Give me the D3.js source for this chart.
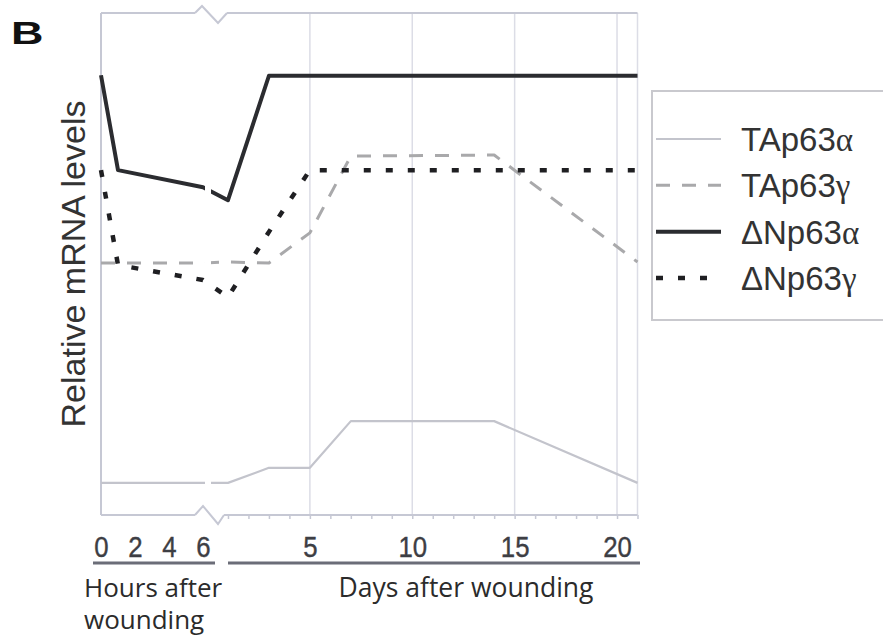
<!DOCTYPE html>
<html><head><meta charset="utf-8">
<script src="https://cdn.jsdelivr.net/npm/d3@7/dist/d3.min.js"></script>
<style>body{margin:0;background:#fff}svg{display:block}</style>
</head><body>
<svg id="chart" width="883" height="643"></svg>
<script>
// Time axis: hours (0–6 h) then a break, then days (1–21 d)
const hourTicks = [0, 2, 4, 6];
const dayTicks = [5, 10, 15, 20];
const dayMinorTicks = d3.range(1, 22);
const hourPoints = [0, 1, 6];
const dayPoints = [1, 3, 5, 7, 14, 21];

// Relative mRNA levels (arbitrary units) for each isoform
const seriesNames = ["TAp63α", "TAp63γ", "ΔNp63α", "ΔNp63γ"];
const tap63aHours = [0.64, 0.64, 0.64];
const tap63aDays  = [0.64, 0.94, 0.94, 1.87, 1.87, 0.64];
const tap63gHours = [5.02, 5.02, 5.02];
const tap63gDays  = [5.04, 5.02, 5.62, 7.15, 7.17, 5.04];
const dnp63aHours = [8.76, 6.87, 6.53];
const dnp63aDays  = [6.27, 8.75, 8.75, 8.75, 8.75, 8.75];
const dnp63gHours = [6.87, 4.98, 4.68];
const dnp63gDays  = [4.34, 5.64, 6.87, 6.87, 6.87, 6.87];

const styles = [
  {color: "#c3c4cc", width: 2.2, dash: null},
  {color: "#a9a9ab", width: 3,   dash: "14,12"},
  {color: "#2b2c30", width: 4,   dash: null},
  {color: "#1f1f22", width: 4.5, dash: "7,15"}
];
const seriesHours = [tap63aHours, tap63gHours, dnp63aHours, dnp63gHours];
const seriesDays  = [tap63aDays, tap63gDays, dnp63aDays, dnp63gDays];

const svg = d3.select("#chart");
const plotL = 101, plotR = 637.5, plotT = 13, plotB = 515;

const xH = d3.scaleLinear().domain([0, 6]).range([plotL, 203]);
const xD = d3.scaleLinear().domain([0, 21]).range([207.5, plotR]);
const y = d3.scaleLinear().domain([0, 10]).range([plotB, plotT]);

const frame = "#c6c8d4", grid = "#dcdde6";

// panel letter
svg.append("text").attr("x", 0).attr("y", 0)
  .attr("transform", "translate(11,44) scale(1.45,1)")
  .attr("font-family", "Liberation Sans, Arial, sans-serif")
  .attr("font-weight", 900).attr("font-size", 31).attr("fill", "#111")
  .text("B");

// vertical gridlines at labelled days and the right edge
svg.append("g").selectAll("line").data(dayTicks.concat([21])).join("line")
  .attr("x1", d => xD(d)).attr("x2", d => xD(d))
  .attr("y1", plotT).attr("y2", plotB)
  .attr("stroke", grid).attr("stroke-width", 1.5);

// left axis and frame lines (broken at the hour/day junction)
const fr = svg.append("g").attr("fill", "none").attr("stroke", frame).attr("stroke-width", 2);
fr.append("line").attr("x1", plotL).attr("x2", plotL).attr("y1", plotT).attr("y2", plotB);
fr.append("line").attr("x1", plotL).attr("x2", 195).attr("y1", plotT).attr("y2", plotT);
fr.append("line").attr("x1", 227).attr("x2", plotR).attr("y1", plotT).attr("y2", plotT);
fr.append("path").attr("d", `M195,${plotT} L202,${plotT - 7} L218,${plotT + 10} L227,${plotT}`);
fr.append("line").attr("x1", plotL).attr("x2", 195).attr("y1", plotB).attr("y2", plotB);
fr.append("line").attr("x1", 224).attr("x2", plotR).attr("y1", plotB).attr("y2", plotB);
fr.append("path").attr("d", `M195,${plotB} L203,${plotB - 9} L218,${plotB + 9} L224,${plotB}`);

// minor day ticks
const minorAxis = d3.axisBottom(xD).tickValues(dayMinorTicks).tickSize(4).tickFormat("");
const gMinor = svg.append("g").attr("transform", `translate(0,${plotB})`).call(minorAxis);
gMinor.select(".domain").remove();
gMinor.selectAll("line").attr("stroke", frame).attr("stroke-width", 1.5);

// series lines
const line = d3.line().x(d => d.x).y(d => y(d.v));
seriesNames.forEach((name, i) => {
  const pts = hourPoints.map((h, j) => ({x: xH(h), v: seriesHours[i][j]}))
    .concat(dayPoints.map((d, j) => ({x: xD(d), v: seriesDays[i][j]})));
  svg.append("path").datum(pts)
    .attr("d", line)
    .attr("fill", "none")
    .attr("stroke", styles[i].color)
    .attr("stroke-width", styles[i].width)
    .attr("stroke-dasharray", styles[i].dash)
    .attr("stroke-linejoin", "round");
});
// gap through the data lines at the scale break
svg.append("rect").attr("x", 205).attr("y", plotT + 12).attr("width", 6).attr("height", plotB - plotT - 24)
  .attr("fill", "#fff");

// tick labels
const tickFont = "Liberation Sans Narrow, Liberation Sans, Arial, sans-serif";
const hourAxis = d3.axisBottom(xH).tickValues(hourTicks).tickSize(0).tickPadding(0).tickFormat(d3.format("d"));
const gH = svg.append("g").attr("transform", `translate(0,535)`).call(hourAxis);
const dayAxis = d3.axisBottom(xD).tickValues(dayTicks).tickSize(0).tickPadding(0).tickFormat(d3.format("d"));
const gD = svg.append("g").attr("transform", `translate(0,535)`).call(dayAxis);
[gH, gD].forEach(g => {
  g.select(".domain").remove();
  g.selectAll("text").attr("font-family", tickFont).attr("font-size", 30)
    .attr("fill", "#3d3e44").attr("dy", "0.72em").attr("y", 0)
    .attr("stroke", "#3d3e44").attr("stroke-width", 0.4)
    .attr("transform", "scale(0.86,1)");
});

// underline bars for the two time scales
svg.append("line").attr("x1", 93).attr("x2", 215).attr("y1", 563).attr("y2", 563)
  .attr("stroke", "#6b6d78").attr("stroke-width", 3);
svg.append("line").attr("x1", 228).attr("x2", 640).attr("y1", 563).attr("y2", 563)
  .attr("stroke", "#6b6d78").attr("stroke-width", 3);

const labelFont = "Open Sans, Noto Sans, sans-serif";
const hl = svg.append("text").attr("font-family", labelFont).attr("font-size", 26).attr("fill", "#2b2b2b");
hl.append("tspan").attr("x", 84).attr("y", 597).text("Hours after");
hl.append("tspan").attr("x", 84).attr("y", 629).text("wounding");
svg.append("text").attr("x", 466).attr("y", 597).attr("text-anchor", "middle")
  .attr("font-family", labelFont).attr("font-size", 26.5).attr("fill", "#2b2b2b")
  .text("Days after wounding");

// y-axis title
svg.append("text").attr("transform", "translate(85,264) rotate(-90)")
  .attr("text-anchor", "middle")
  .attr("font-family", "Liberation Sans, Arial, sans-serif").attr("font-size", 34)
  .attr("fill", "#333").text("Relative mRNA levels");

// legend
const lg = svg.append("g");
lg.append("rect").attr("x", 652).attr("y", 91).attr("width", 250).attr("height", 229)
  .attr("fill", "#fff").attr("stroke", "#c9c9ce").attr("stroke-width", 2);
const legendY = d3.scalePoint().domain(seriesNames).range([139, 278]);
seriesNames.forEach((name, i) => {
  const yy = legendY(name);
  lg.append("line").attr("x1", 656).attr("x2", 721).attr("y1", yy).attr("y2", yy)
    .attr("stroke", styles[i].color).attr("stroke-width", styles[i].width)
    .attr("stroke-dasharray", styles[i].dash);
  const t = lg.append("text").attr("x", 741).attr("y", yy + 12)
    .attr("font-family", "Liberation Sans, Arial, sans-serif").attr("font-size", 33).attr("fill", "#333");
  t.append("tspan").text(name.slice(0, -1));
  t.append("tspan").attr("font-family", "Liberation Serif, serif").text(name.slice(-1));
});
</script>
</body></html>
